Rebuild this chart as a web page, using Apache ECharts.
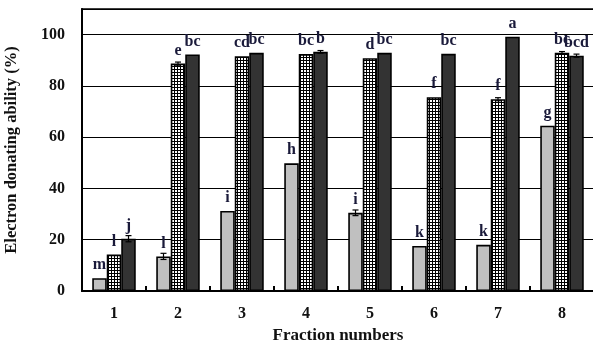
<!DOCTYPE html>
<html><head><meta charset="utf-8">
<script src="https://cdn.jsdelivr.net/npm/echarts@6/dist/echarts.min.js"></script>
<style>html,body{margin:0;padding:0;background:#fff}#c{width:593px;height:343px}</style>
</head><body><div id="c"></div>
<script>
const categories = ['1','2','3','4','5','6','7','8'];
const grayValues = [5, 13.5, 31.2, 49.8, 30.5, 17.6, 18, 64.5];
const checkValues = [14.2, 88.7, 91.6, 92.4, 90.8, 75.6, 74.8, 92.9];
const darkValues = [20.4, 92.3, 92.9, 93.3, 92.9, 92.5, 99.2, 91.8];
const grayErr = [0, 1.2, 0, 0, 1.1, 0, 0, 0];
const checkErr = [0, 0.6, 0, 0, 0, 0, 0.6, 0.5];
const darkErr = [1.2, 0, 0, 0.5, 0, 0, 0, 0.6];
const grayLetters = ['m','l','i','h','i','k','k','g'];
const checkLetters = ['l','e','cd','bc','d','f','f','bc'];
const darkLetters = ['j','bc','bc','b','bc','bc','a','bcd'];

const pc = document.createElement('canvas');
pc.width = 3; pc.height = 3;
const px = pc.getContext('2d');
px.fillStyle = '#ffffff'; px.fillRect(0,0,3,3);
px.fillStyle = '#000000'; px.fillRect(0,0,3,1); px.fillRect(0,0,1,3);

const font = '"Liberation Serif", "Times New Roman", serif';
const chart = echarts.init(document.getElementById('c'));
const barW = 14.5;

function barSeries(name, vals, letters, color) {
  return {
    name, type: 'bar', data: vals, barWidth: barW, barGap: '0%',
    itemStyle: { color, borderColor: '#000', borderWidth: 1.6 },
    label: { show: true, position: 'top', distance: 5,
      formatter: p => letters[p.dataIndex],
      fontFamily: font, fontWeight: 'bold', fontSize: 16, color: '#1a1a3a' },
    z: 2
  };
}
function errSeries(vals, errs, idx) {
  return {
    type: 'custom', z: 5,
    data: vals.map((v, i) => [i, v, errs[i]]),
    renderItem: (params, api) => {
      const e = api.value(2);
      if (!e) return null;
      const i = api.value(0), v = api.value(1);
      const c = api.coord([i, v]);
      const x = c[0] + (idx - 1) * barW;
      const hi = api.coord([i, v + e])[1], lo = api.coord([i, v - e])[1];
      const st = { stroke: '#000', lineWidth: 1.2 };
      return { type: 'group', children: [
        { type: 'line', shape: { x1: x, y1: hi, x2: x, y2: lo }, style: st },
        { type: 'line', shape: { x1: x - 3, y1: hi, x2: x + 3, y2: hi }, style: st },
        { type: 'line', shape: { x1: x - 3, y1: lo, x2: x + 3, y2: lo }, style: st }
      ]};
    }
  };
}

chart.setOption({
  animation: false,
  grid: { left: 82, right: -1, top: 9, bottom: 52, show: true, borderColor: '#000', borderWidth: 1.5,
    backgroundColor: 'transparent', containLabel: false, outerBoundsMode: 'none' },
  xAxis: {
    type: 'category', data: categories,
    name: 'Fraction numbers', nameLocation: 'middle', nameGap: 30,
    nameTextStyle: { fontFamily: font, fontWeight: 'bold', fontSize: 17, color: '#111' },
    axisLine: { lineStyle: { color: '#000', width: 2 } },
    axisTick: { show: true, inside: true, length: 5, lineStyle: { color: '#000', width: 2 } },
    axisLabel: { fontFamily: font, fontWeight: 'bold', fontSize: 16, color: '#111', margin: 15 }
  },
  yAxis: {
    type: 'value', min: 0, max: 110, interval: 20,
    name: 'Electron donating ability (%)', nameLocation: 'middle', nameGap: 62, nameRotate: 90,
    nameTextStyle: { fontFamily: font, fontWeight: 'bold', fontSize: 16.5, color: '#111' },
    axisLine: { show: true, lineStyle: { color: '#000', width: 2 } },
    axisTick: { show: false },
    splitLine: { lineStyle: { color: '#000', width: 1 } },
    axisLabel: { fontFamily: font, fontWeight: 'bold', fontSize: 16, color: '#111', margin: 17,
      formatter: v => v > 100 ? '' : v }
  },
  series: [
    barSeries('gray', grayValues, grayLetters, '#c0c0c0'),
    barSeries('check', checkValues, checkLetters, { image: pc, repeat: 'repeat' }),
    barSeries('dark', darkValues, darkLetters, '#333333'),
    errSeries(grayValues, grayErr, 0),
    errSeries(checkValues, checkErr, 1),
    errSeries(darkValues, darkErr, 2)
  ]
});
</script></body></html>
